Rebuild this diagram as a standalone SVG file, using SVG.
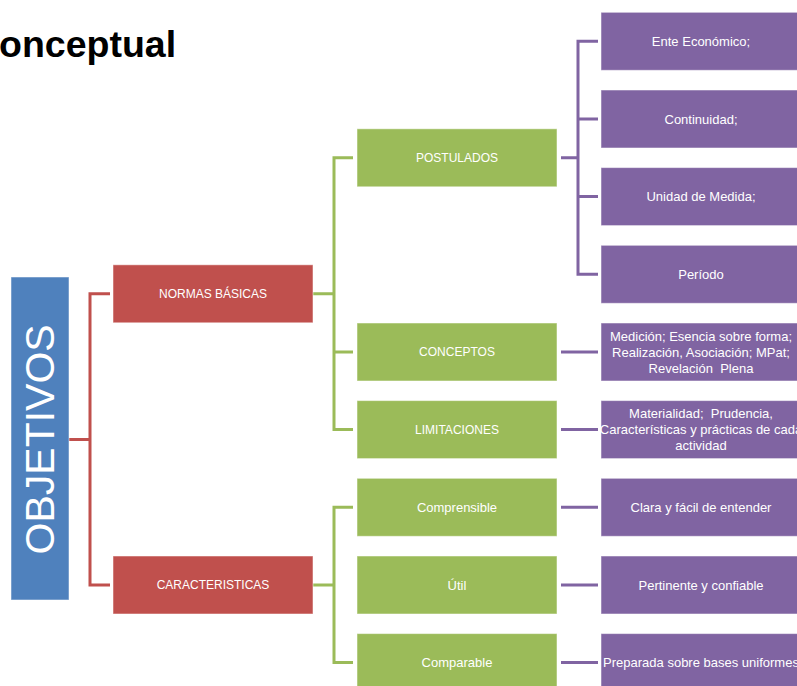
<svg xmlns="http://www.w3.org/2000/svg" width="797" height="686" viewBox="0 0 797 686">
<style>
  text { font-family: "Liberation Sans", Arial, sans-serif; white-space: pre; }
  .t { font-size: 12px; fill: #FFFFFF; text-anchor: middle; dominant-baseline: central; }
  .m { font-size: 13px; }
  .blue { fill: #4F81BD; stroke: #FFFFFF; stroke-opacity: 0.5; stroke-width: 1; }
  .red { fill: #C0504D; stroke: #FFFFFF; stroke-opacity: 0.5; stroke-width: 1; }
  .green { fill: #9BBB59; stroke: #FFFFFF; stroke-opacity: 0.5; stroke-width: 1; }
  .purple { fill: #8064A2; stroke: #FFFFFF; stroke-opacity: 0.5; stroke-width: 1; }
  .c { fill: none; stroke-width: 3; stroke-linejoin: miter; }
  .cr { stroke: #C0504D; }
  .cg { stroke: #9BBB59; }
  .cp { stroke: #8064A2; }
</style>
<rect width="797" height="686" fill="#FFFFFF"/>
<text x="-1" y="57" font-size="37.5" font-weight="bold" fill="#000000">onceptual</text>

<g id="connectors">
  <path class="c cr" d="M69 439.4 H90 M110 293.8 H90 V585 H110"/>
  <path class="c cg" d="M313 293.8 H334 M353 157.8 H334 V429.6 H353 M334 352 H353"/>
  <path class="c cg" d="M313 585 H334 M353 507.3 H334 V662.6 H353"/>
  <path class="c cp" d="M561 157.8 H578 M598 41.3 H578 V274.3 H598 M578 119 H598 M578 196.6 H598"/>
  <path class="c cp" d="M561 352 H598 M561 429.6 H598 M561 507.3 H598 M561 585 H598 M561 662.6 H598"/>
</g>

<g id="objetivos">
  <rect class="blue" x="11" y="277" width="58" height="323"/>
  <text x="40" y="439.4" font-size="41" fill="#FFFFFF" text-anchor="middle" dominant-baseline="central" transform="rotate(-90 40 439.4)">OBJETIVOS</text>
</g>

<g id="normas">
  <rect class="red" x="113" y="264.8" width="200" height="58"/>
  <text class="t" x="213" y="293.8">NORMAS BÁSICAS</text>
</g>
<g id="caracteristicas">
  <rect class="red" x="113" y="556" width="200" height="58"/>
  <text class="t" x="213" y="585">CARACTERISTICAS</text>
</g>

<g id="postulados">
  <rect class="green" x="357" y="128.8" width="200" height="58"/>
  <text class="t" x="457" y="157.8">POSTULADOS</text>
</g>
<g id="conceptos">
  <rect class="green" x="357" y="323" width="200" height="58"/>
  <text class="t" x="457" y="352">CONCEPTOS</text>
</g>
<g id="limitaciones">
  <rect class="green" x="357" y="400.6" width="200" height="58"/>
  <text class="t" x="457" y="429.6">LIMITACIONES</text>
</g>
<g id="comprensible">
  <rect class="green" x="357" y="478.3" width="200" height="58"/>
  <text class="t m" x="457" y="507.3">Comprensible</text>
</g>
<g id="util">
  <rect class="green" x="357" y="556" width="200" height="58"/>
  <text class="t m" x="457" y="585">Útil</text>
</g>
<g id="comparable">
  <rect class="green" x="357" y="633.6" width="200" height="58"/>
  <text class="t m" x="457" y="662.6">Comparable</text>
</g>

<g id="ente">
  <rect class="purple" x="601" y="12.3" width="200" height="58"/>
  <text class="t m" x="701" y="41.3">Ente Económico;</text>
</g>
<g id="continuidad">
  <rect class="purple" x="601" y="90" width="200" height="58"/>
  <text class="t m" x="701" y="119">Continuidad;</text>
</g>
<g id="unidad">
  <rect class="purple" x="601" y="167.6" width="200" height="58"/>
  <text class="t m" x="701" y="196.6">Unidad de Medida;</text>
</g>
<g id="periodo">
  <rect class="purple" x="601" y="245.3" width="200" height="58"/>
  <text class="t m" x="701" y="274.3">Período</text>
</g>
<g id="medicion">
  <rect class="purple" x="601" y="323" width="200" height="58"/>
  <text class="t m" x="701" y="336">Medición; Esencia sobre forma;</text>
  <text class="t m" x="701" y="352">Realización, Asociación; MPat;</text>
  <text class="t m" x="701" y="368">Revelación  Plena</text>
</g>
<g id="materialidad">
  <rect class="purple" x="601" y="400.6" width="200" height="58"/>
  <text class="t m" x="701" y="413.6">Materialidad;  Prudencia,</text>
  <text class="t m" x="701" y="429.6">Características y prácticas de cada</text>
  <text class="t m" x="701" y="445.6">actividad</text>
</g>
<g id="clara">
  <rect class="purple" x="601" y="478.3" width="200" height="58"/>
  <text class="t m" x="701" y="507.3">Clara y fácil de entender</text>
</g>
<g id="pertinente">
  <rect class="purple" x="601" y="556" width="200" height="58"/>
  <text class="t m" x="701" y="585">Pertinente y confiable</text>
</g>
<g id="preparada">
  <rect class="purple" x="601" y="633.6" width="200" height="58"/>
  <text class="t m" x="701" y="662.6">Preparada sobre bases uniformes</text>
</g>
</svg>
